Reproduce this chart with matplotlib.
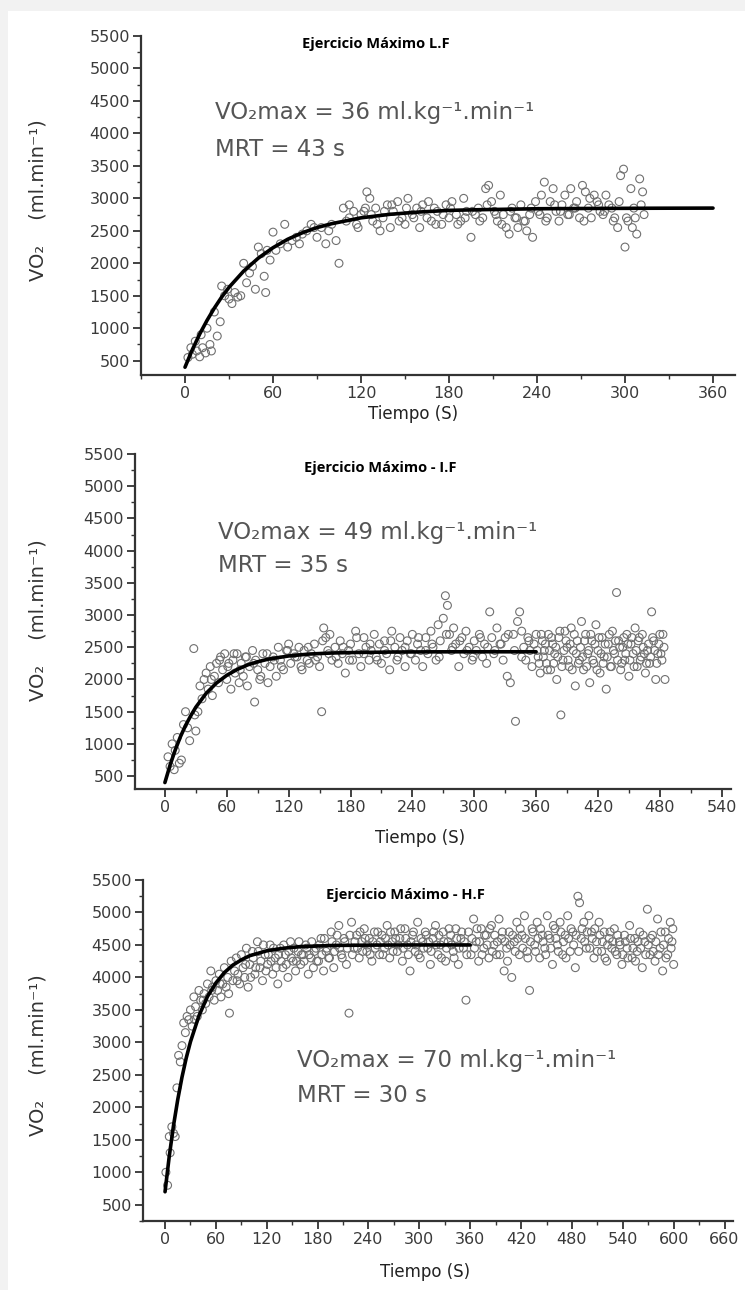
import matplotlib
matplotlib.use("Agg")
import matplotlib.pyplot as plt
from matplotlib.patches import Rectangle
from matplotlib.ticker import MultipleLocator

# ---------------- data ----------------
titles = ["Ejercicio Máximo L.F", "Ejercicio Máximo - I.F", "Ejercicio Máximo - H.F"]
vo2max_txt = ["VO\u2082max = 36 ml.kg\u207b\u00b9.min\u207b\u00b9",
              "VO\u2082max = 49 ml.kg\u207b\u00b9.min\u207b\u00b9",
              "VO\u2082max = 70 ml.kg\u207b\u00b9.min\u207b\u00b9"]
mrt_txt = ["MRT = 43 s", "MRT = 35 s", "MRT = 30 s"]
x_max_tick = [360, 540, 660]

# panel 1 (L.F) breath-by-breath points (t [s], VO2 [ml/min])
top_rise = [(2,550),(4,700),(5,600),(7,800),(8,650),(10,560),(11,900),(12,700),(14,620),(15,1000),
            (17,750),(18,650),(20,1250),(22,880),(24,1100),(25,1650),(27,1500),(29,1600),(30,1450),
            (32,1380),(34,1550),(36,1480),(38,1500),(40,2000),(42,1700),(44,1850),(46,1950),(48,1600),
            (50,2250),(52,2150),(54,1800),(55,1550),(56,2200),(58,2050),(60,2480),(62,2200),(65,2300),
            (68,2600),(70,2250),(73,2350),(76,2400),(78,2300),(80,2450),(83,2500),(86,2600),(88,2550),
            (90,2400),(93,2550),(96,2300),(98,2500),(100,2600),(103,2350),(105,2000),(108,2850)]
top_plateau = [(110,2650),(112,2900),(115,2800),(118,2550),(120,2750),(122,2800),(124,3100),(126,3000),
               (128,2650),(130,2850),(133,2500),(135,2700),(138,2900),(140,2550),(142,2800),(145,2950),
               (148,2700),(150,2600),(152,3000),(155,2750),(158,2850),(160,2550),(162,2900),(165,2700),
               (168,2650),(170,2850),(172,2800),(175,2600),(178,2900),(180,2700),(182,2950),(185,2750),
               (188,2650),(190,3000),(192,2800),(195,2400),(198,2750),(200,2850),(203,2700),(205,3150),
               (207,3200),(209,2950),(211,2800),(213,2650),(215,3050),(217,2750),(219,2550),(221,2450),
               (223,2850),(225,2700),(227,2550),(229,2900),(231,2650),(233,2500),(235,2750),(237,2400),
               (239,2950),(241,2800),(243,3050),(245,3250),(247,2700),(249,2950),(251,3150),(253,2800),
               (255,2650),(257,2900),(259,3050),(261,2750),(263,3150),(265,2850),(267,2950),(269,2700),
               (271,3200),(273,3100),(275,2850),(277,2700),(279,3050),(281,2950),(283,2800),(285,2750),
               (287,3050),(289,2900),(291,2850),(293,2700),(295,2550),(297,3350),(299,3450),(300,2250),
               (302,2650),(304,3150),(305,2550),(307,2700),(308,2450),(310,3300),(311,2900),(312,3100),
               (313,2750),(112,2700),(117,2600),(123,2850),(127,2750),(131,2600),(136,2800),(141,2900),
               (146,2650),(151,2850),(156,2700),(161,2800),(166,2950),(171,2600),(176,2750),(181,2850),
               (186,2600),(191,2700),(196,2800),(201,2650),(206,2900),(212,2750),(216,2600),(222,2800),
               (226,2700),(232,2650),(236,2850),(242,2750),(246,2650),(252,2900),(256,2800),(262,2750),
               (266,2850),(272,2650),(276,3000),(282,2900),(286,2800),(292,2650),(296,2950),(301,2700),
               (306,2850)]

# panel 2 (I.F)
mid_rise = [(3,800),(5,650),(7,1000),(9,600),(10,900),(12,1100),(14,700),(16,750),(18,1300),(20,1500),
            (22,1250),(24,1050),(28,2480),(29,1450),(30,1200),(32,1500),(34,1900),(36,1700),(38,2000),
            (40,2100),(42,1850),(44,2200),(46,1750),(48,2050),(50,2250),(52,1950),(54,2350),(56,2150),
            (58,2400),(60,2000),(62,2250),(64,1850),(66,2300),(68,2100),(70,2400),(72,1950),(74,2250),
            (76,2050),(78,2350),(80,1900),(82,2200),(85,2450),(87,1650),(88,2300),(90,2150),(92,2000),
            (95,2400),(97,2250),(100,1950),(102,2200),(105,2350),(108,2050)]
mid_plateau = [(110,2500),(112,2300),(115,2150),(118,2450),(120,2550),(122,2250),(125,2400),(128,2350),
               (130,2500),(132,2200),(135,2450),(138,2300),(140,2250),(142,2400),(145,2550),(148,2350),
               (150,2200),(152,1500),(154,2800),(156,2650),(158,2450),(160,2700),(162,2300),(165,2500),
               (168,2250),(170,2600),(172,2400),(175,2100),(178,2450),(180,2550),(182,2300),(185,2750),
               (188,2400),(190,2200),(193,2650),(195,2500),(198,2300),(200,2450),(203,2700),(205,2350),
               (208,2550),(210,2250),(213,2600),(215,2400),(218,2150),(220,2750),(223,2500),(225,2300),
               (228,2650),(230,2450),(233,2200),(235,2600),(238,2400),(240,2700),(243,2300),(245,2550),
               (248,2450),(250,2200),(253,2650),(255,2400),(258,2750),(260,2500),(263,2300),(265,2850),
               (267,2600),(270,2950),(272,3300),(274,3150),(276,2700),(278,2450),(280,2800),(282,2550),
               (285,2200),(288,2650),(290,2400),(292,2750),(295,2500),(298,2300),(300,2600),(302,2450),
               (305,2700),(308,2350),(310,2550),(312,2250),(315,3050),(317,2650),(320,2450),(322,2800),
               (325,2550),(328,2300),(330,2650),(332,2050),(335,1950),(338,2700),(340,1350),(342,2900),
               (344,3050),(346,2750),(348,2500),(350,2300),(352,2650),(354,2450),(356,2200),(358,2550),
               (45,2000),(53,2300),(61,2200),(67,2400),(73,2150),(79,2350),(86,2250),(93,2050),(99,2400),
               (106,2300),(113,2200),(119,2450),(126,2350),(133,2150),(139,2500),(146,2300),(153,2600),
               (159,2400),(166,2350),(173,2500),(179,2300),(186,2650),(193,2400),(199,2550),(206,2300),
               (213,2450),(219,2600),(226,2350),(233,2500),(239,2400),(246,2650),(253,2450),(259,2550),
               (266,2350),(273,2700),(279,2500),(286,2600),(293,2450),(299,2350),(306,2650),(313,2500),
               (319,2400),(326,2550),(333,2700),(339,2450),(346,2350),(353,2600)]
mid_tail = [(360,2700),(362,2350),(364,2100),(366,2600),(368,2450),(370,2250),(372,2700),(374,2150),
            (376,2550),(378,2400),(380,2000),(382,2650),(384,1450),(386,2300),(388,2750),(390,2500),
            (392,2200),(394,2800),(396,2450),(398,1900),(400,2600),(402,2300),(404,2900),(406,2150),
            (408,2700),(410,2400),(412,1950),(414,2600),(416,2250),(418,2850),(420,2450),(422,2100),
            (424,2650),(426,2350),(428,1850),(430,2550),(432,2200),(434,2750),(436,2400),(438,3350),
            (440,2600),(442,2150),(444,2500),(446,2300),(448,2700),(450,2050),(452,2550),(454,2400),
            (456,2800),(458,2200),(460,2650),(462,2350),(464,2500),(466,2100),(468,2450),(470,2250),
            (472,3050),(474,2600),(476,2000),(478,2400),(480,2700),(482,2300),(484,2500),(485,2000),
            (361,2450),(363,2250),(365,2700),(367,2350),(369,2550),(371,2150),(373,2450),(375,2650),
            (377,2250),(379,2500),(381,2350),(383,2750),(385,2200),(387,2450),(389,2600),(391,2300),
            (393,2550),(395,2150),(397,2700),(399,2400),(401,2250),(403,2500),(405,2350),(407,2600),
            (409,2200),(411,2450),(413,2700),(415,2300),(417,2550),(419,2150),(421,2650),(423,2400),
            (425,2250),(427,2550),(429,2350),(431,2700),(433,2200),(435,2450),(437,2600),(439,2300),
            (441,2500),(443,2250),(445,2650),(447,2400),(449,2550),(451,2300),(453,2650),(455,2200),
            (457,2450),(459,2600),(461,2300),(463,2700),(465,2400),(467,2250),(469,2550),(471,2350),
            (473,2650),(475,2450),(477,2250),(479,2550),(481,2400),(483,2700)]

# panel 3 (H.F)
bot_rise = [(1,1000),(3,800),(5,1550),(6,1300),(8,1700),(10,1600),(12,1550),(14,2300),(16,2800),
            (18,2700),(20,2950),(22,3300),(24,3150),(26,3400),(28,3350),(30,3500),(32,3250),(34,3700),
            (36,3550),(38,3400),(40,3800),(42,3650),(44,3500),(46,3750),(48,3600),(50,3900),(52,3700),
            (54,4100),(56,3850),(58,3650),(60,3950),(62,3800),(64,4050),(66,3700),(68,3900),(70,4150),
            (72,3850),(74,4000),(76,3450),(78,4250),(80,3950),(82,4100),(84,4300),(86,4050),(88,3900),
            (90,4350),(92,4150),(94,4000),(96,4450),(98,3850),(35,3350),(45,3650),(55,3800),(65,3900),
            (75,3750),(85,3950),(95,4200)]
bot_plateau = [(100,4200),(103,4400),(106,4050),(109,4550),(112,4150),(115,3950),(118,4350),(121,4200),
               (124,4500),(127,4050),(130,4300),(133,3900),(136,4450),(139,4150),(142,4350),(145,4000),
               (148,4550),(151,4250),(154,4100),(157,4400),(160,4200),(163,4350),(166,4500),(169,4050),
               (172,4300),(175,4150),(178,4450),(181,4250),(184,4600),(187,4100),(190,4400),(193,4300),
               (196,4700),(199,4150),(202,4500),(205,4800),(208,4350),(211,4600),(214,4200),(217,3450),
               (220,4850),(223,4450),(226,4650),(229,4300),(232,4550),(235,4750),(238,4400),(241,4600),
               (244,4250),(247,4700),(250,4500),(253,4350),(256,4650),(259,4450),(262,4800),(265,4300),
               (268,4550),(271,4700),(274,4400),(277,4600),(280,4250),(283,4750),(286,4500),(289,4100),
               (292,4650),(295,4400),(298,4850),(301,4300),(304,4550),(307,4700),(310,4450),(313,4200),
               (316,4600),(319,4800),(322,4350),(325,4500),(328,4700),(331,4250),(334,4550),(337,4650),
               (340,4400),(343,4750),(346,4200),(349,4600),(352,4450),(355,3650),(358,4700),
               (101,4000),(104,4300),(107,4150),(110,4400),(113,4250),(116,4500),(119,4100),(122,4350),
               (125,4250),(128,4450),(131,4150),(134,4350),(137,4250),(140,4500),(143,4200),(146,4400),
               (149,4300),(152,4450),(155,4250),(158,4550),(161,4350),(164,4250),(167,4450),(170,4350),
               (173,4550),(176,4400),(179,4250),(182,4500),(185,4350),(188,4600),(191,4450),(194,4300),
               (197,4550),(200,4400),(203,4650),(206,4450),(209,4300),(212,4550),(215,4450),(218,4650),
               (221,4350),(224,4550),(227,4450),(230,4700),(233,4400),(236,4600),(239,4500),(242,4350),
               (245,4550),(248,4450),(251,4700),(254,4550),(257,4350),(260,4600),(263,4500),(266,4700),
               (269,4400),(272,4600),(275,4500),(278,4750),(281,4450),(284,4600),(287,4350),(290,4550),
               (293,4700),(296,4500),(299,4350),(302,4600),(305,4450),(308,4650),(311,4550),(314,4400),
               (317,4700),(320,4500),(323,4650),(326,4300),(329,4550),(332,4450),(335,4750),(338,4500),
               (341,4300),(344,4600),(347,4450),(350,4700),(353,4550),(356,4350)]
bot_tail = [(361,4350),(364,4900),(367,4550),(370,4250),(373,4750),(376,4450),(379,4650),(382,4300),
            (385,4800),(388,4500),(391,4350),(394,4900),(397,4600),(400,4100),(403,4450),(406,4700),
            (409,4000),(412,4550),(415,4850),(418,4350),(421,4650),(424,4950),(427,4400),(430,3800),
            (433,4750),(436,4500),(439,4850),(442,4300),(445,4650),(448,4450),(451,4950),(454,4600),
            (457,4200),(460,4750),(463,4500),(466,4850),(469,4350),(472,4650),(475,4950),(478,4400),
            (481,4700),(484,4150),(487,5250),(489,5150),(491,4600),(494,4850),(497,4450),(500,4950),
            (503,4700),(506,4300),(509,4550),(512,4850),(515,4400),(518,4700),(521,4250),(524,4600),
            (527,4450),(530,4750),(533,4350),(536,4550),(539,4200),(542,4650),(545,4450),(548,4800),
            (551,4300),(554,4600),(557,4400),(560,4700),(563,4150),(566,4550),(569,5050),(572,4350),
            (575,4650),(578,4250),(581,4900),(584,4450),(587,4100),(590,4700),(593,4350),(596,4850),
            (598,4550),(600,4200),
            (362,4600),(365,4450),(368,4750),(371,4550),(374,4350),(377,4650),(380,4500),(383,4750),
            (386,4400),(389,4650),(392,4550),(395,4350),(398,4700),(401,4550),(404,4250),(407,4500),
            (410,4650),(413,4400),(416,4600),(419,4750),(422,4450),(425,4600),(428,4300),(431,4550),
            (434,4700),(437,4400),(440,4600),(443,4750),(446,4550),(449,4350),(452,4650),(455,4450),
            (458,4800),(461,4600),(464,4400),(467,4700),(470,4550),(473,4300),(476,4600),(479,4750),
            (482,4500),(485,4650),(488,4400),(492,4750),(495,4550),(498,4700),(501,4450),(504,4600),
            (507,4750),(510,4400),(513,4650),(516,4550),(519,4300),(522,4500),(525,4700),(528,4550),
            (531,4400),(534,4650),(537,4500),(540,4350),(543,4550),(546,4300),(549,4600),(552,4450),
            (555,4250),(558,4550),(561,4450),(564,4650),(567,4350),(570,4500),(573,4600),(576,4400),
            (579,4550),(582,4350),(585,4700),(588,4500),(591,4300),(594,4600),(597,4450),(599,4750)]

# fitted mono-exponential curves (t, VO2)
top_fit = [(0,400),(5,670),(10,910),(15,1120),(20,1310),(25,1480),(30,1630),(40,1880),(50,2080),
           (60,2240),(70,2370),(80,2470),(90,2550),(100,2610),(120,2700),(140,2755),(160,2790),
           (180,2815),(200,2825),(240,2840),(280,2845),(320,2848),(360,2850)]
mid_fit = [(0,400),(5,670),(10,905),(15,1110),(20,1285),(25,1435),(30,1570),(40,1785),(50,1945),
           (60,2065),(70,2155),(80,2225),(90,2275),(100,2315),(120,2365),(140,2395),(160,2410),
           (180,2418),(220,2426),(260,2429),(300,2430),(360,2430)]
bot_fit = [(0,700),(5,1250),(10,1720),(15,2120),(20,2465),(25,2760),(30,3010),(40,3410),(50,3705),
           (60,3915),(70,4075),(80,4190),(90,4270),(100,4335),(120,4410),(140,4450),(160,4475),
           (200,4493),(250,4498),(300,4500),(360,4500)]

# ---------------- figure ----------------
W, H = 745, 1290
fig = plt.figure(figsize=(W / 100, H / 100), dpi=100)
fig.patch.set_facecolor("#f2f2f2")
fig.patches.append(Rectangle((8 / W, 0), 1 - 8 / W, 1 - 11 / H, transform=fig.transFigure,
                             facecolor="white", edgecolor="none", zorder=-5))

# axes rectangles in pixel coordinates: left, right, top(=ylim top), bottom(axis line)
panels = [
    dict(rect=(141, 735, 36, 375), xlim=(-30, 375), ylim=(280, 5500),
         pts=top_rise + top_plateau, fit=top_fit,
         txt_xy=(215, 112), txt2_xy=(215, 150), title_xy=(376, 44), xl_xy=(413, 414), yl_y=200),
    dict(rect=(135, 731, 454, 789), xlim=(-29, 549), ylim=(300, 5500),
         pts=mid_rise + mid_plateau + mid_tail, fit=mid_fit,
         txt_xy=(218, 532), txt2_xy=(218, 566), title_xy=(380, 468), xl_xy=(420, 838), yl_y=620),
    dict(rect=(143, 733, 880, 1221), xlim=(-26, 670), ylim=(250, 5500),
         pts=bot_rise + bot_plateau + bot_tail, fit=bot_fit,
         txt_xy=(297, 1060), txt2_xy=(297, 1096), title_xy=(405, 895), xl_xy=(425, 1272), yl_y=1055),
]

tick_color = "#3a3a3a"
for i, p in enumerate(panels):
    l, r, t, b = p["rect"]
    ax = fig.add_axes([l / W, 1 - b / H, (r - l) / W, (b - t) / H])
    ax.set_facecolor("none")
    ax.set_xlim(*p["xlim"])
    ax.set_ylim(*p["ylim"])
    for s in ("top", "right"):
        ax.spines[s].set_visible(False)
    for s in ("left", "bottom"):
        ax.spines[s].set_linewidth(1.6)
        ax.spines[s].set_color("#333333")
    ax.set_xticks(list(range(0, x_max_tick[i] + 1, 60)))
    ax.xaxis.set_minor_locator(MultipleLocator(30))
    ax.set_yticks(list(range(500, 5501, 500)))
    ax.yaxis.set_minor_locator(MultipleLocator(250))
    ax.tick_params(which="major", direction="out", length=6, width=1.3, color="#333333",
                   labelsize=11.5, labelcolor=tick_color, pad=2)
    ax.tick_params(which="minor", direction="out", length=3, width=1.0, color="#333333")

    ts = [q[0] for q in p["pts"]]
    vs = [q[1] for q in p["pts"]]
    ax.scatter(ts, vs, s=32, facecolors="none", edgecolors="#707070", linewidths=0.8, zorder=2,
               clip_on=False)
    ft = [q[0] for q in p["fit"]]
    fv = [q[1] for q in p["fit"]]
    ax.plot(ft, fv, color="black", lw=2.6, zorder=3, solid_capstyle="round")

    fig.text(p["title_xy"][0] / W, 1 - p["title_xy"][1] / H, titles[i], ha="center", va="center",
             fontsize=10.5, fontweight="bold", family=["Open Sans", "DejaVu Sans"], color="black")
    fig.text(p["txt_xy"][0] / W, 1 - p["txt_xy"][1] / H, vo2max_txt[i], ha="left", va="center",
             fontsize=16.5, family=["DejaVu Sans"], color="#555555")
    fig.text(p["txt2_xy"][0] / W, 1 - p["txt2_xy"][1] / H, mrt_txt[i], ha="left", va="center",
             fontsize=16.5, family=["DejaVu Sans"], color="#555555")
    fig.text(p["xl_xy"][0] / W, 1 - p["xl_xy"][1] / H, "Tiempo (S)", ha="center", va="center",
             fontsize=12, family=["DejaVu Sans"], color="#222222")
    fig.text(38 / W, 1 - p["yl_y"] / H, "VO\u2082    (ml.min\u207b\u00b9)", ha="center", va="center",
             rotation=90, fontsize=14, family=["DejaVu Sans"], color="#333333")

fig.savefig("out.png", dpi=100, facecolor=fig.get_facecolor())
